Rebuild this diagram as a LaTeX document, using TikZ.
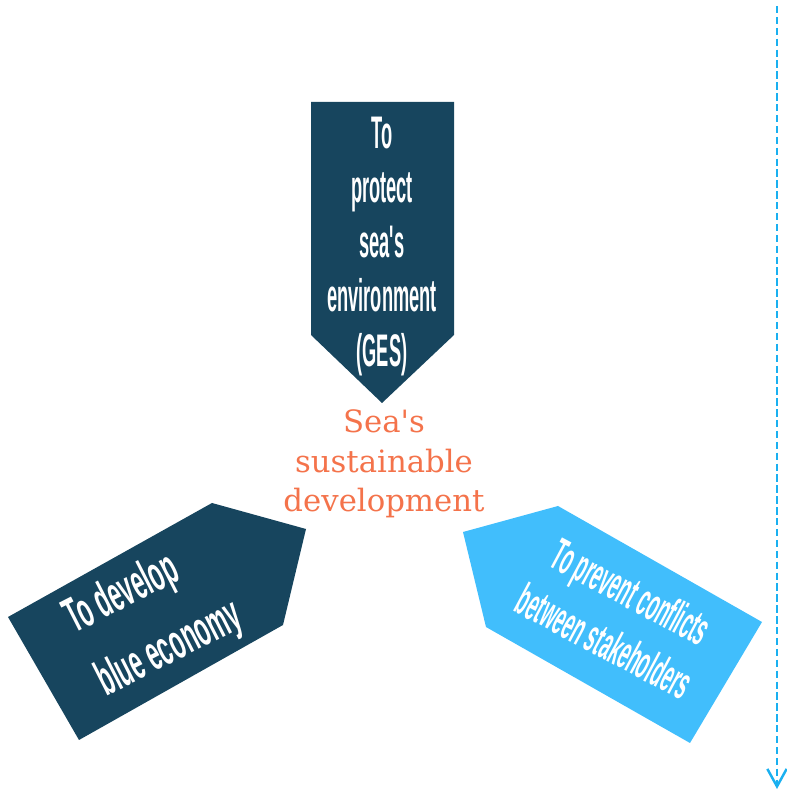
\documentclass[tikz,border=0pt]{standalone}
\usepackage{fontspec}
\usetikzlibrary{arrows.meta}
\newfontfamily\tagfont[FakeStretch=0.4]{Liberation Sans}
\newfontfamily\widetagfont[FakeStretch=0.47]{Liberation Sans}
\newfontfamily\goalfont{DejaVu Serif}
\definecolor{deepsea}{HTML}{17455E}
\definecolor{shallowsea}{HTML}{41BEFC}
\definecolor{goalorange}{HTML}{F4734B}
\definecolor{guideblue}{HTML}{1AB0F0}

\begin{document}
\begin{tikzpicture}[
		tagtext/.style n args={2}{text=white, align=center, inner sep=0pt, font={\tagfont\bfseries\fontsize{#1}{#2}\selectfont}},
	]
		\useasboundingbox (0,0) rectangle (15.74,15.84);

		\fill[deepsea] (6.22,13.80) -- (9.08,13.80) -- (9.08,9.14) -- (7.64,7.78) -- (6.22,9.14) -- cycle;
		\fill[deepsea] (0.16,3.50) -- (4.24,5.78) -- (6.12,5.26) -- (5.66,3.34) -- (1.58,1.04) -- cycle;
		\fill[shallowsea] (9.26,5.20) -- (11.16,5.72) -- (15.24,3.40) -- (13.80,0.98) -- (9.72,3.30) -- cycle;

		\node[tagtext={26}{31}] (protect) at (7.64,10.91) {To\\protect\\sea's\\environment\\(GES)};
		\node[tagtext={28}{40}, align=left, font={\widetagfont\bfseries\fontsize{28}{40}\selectfont}, rotate=27] (economy) at (3.08,3.47) {To develop\\blue economy};
		\node[tagtext={26}{32}, rotate=-28] (conflicts) at (12.36,3.51) {To prevent conflicts\\between stakeholders};

		\node[text=goalorange, align=center, font={\goalfont\fontsize{17.5}{22.5}\selectfont}] (goal) at (7.68,6.56) {Sea\textquotesingle s\\sustainable\\development};

		\coordinate (guidetop) at (15.54,15.72);
		\coordinate (guideend) at (15.54,0.06);
		\draw[guideblue, line width=1.4pt, dash pattern=on 4.2pt off 2pt, -{Straight Barb[length=10pt, width=11pt]}] (guidetop) -- (guideend);
	\end{tikzpicture}
\end{document}
